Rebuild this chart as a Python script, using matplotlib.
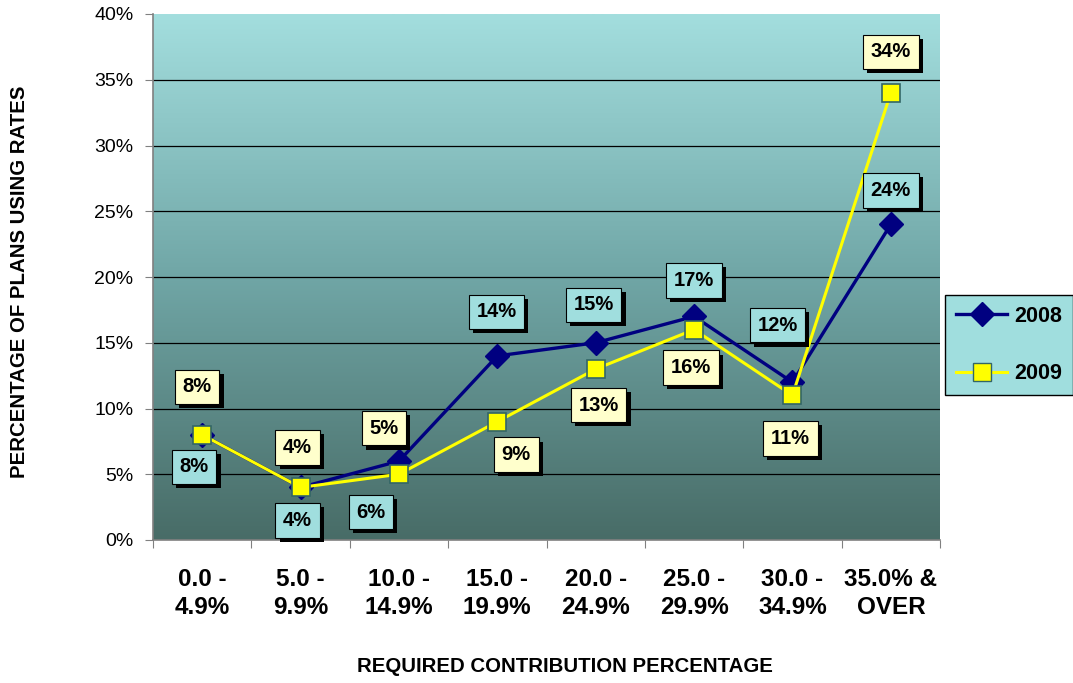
import numpy as np
import matplotlib
matplotlib.use('Agg')
import matplotlib.pyplot as plt
import matplotlib.patheffects as pe
from matplotlib.colors import LinearSegmentedColormap
from matplotlib.lines import Line2D

plt.rcParams['font.family'] = ['Liberation Sans', 'DejaVu Sans']

categories = ['0.0 -\n4.9%', '5.0 -\n9.9%', '10.0 -\n14.9%', '15.0 -\n19.9%',
              '20.0 -\n24.9%', '25.0 -\n29.9%', '30.0 -\n34.9%', '35.0% &\nOVER']
rates_2008 = [8, 4, 6, 14, 15, 17, 12, 24]
rates_2009 = [8, 4, 5, 9, 13, 16, 11, 34]

# label offsets in pixels (dx, dy) from each point
off_2008 = [(-8, -32), (-3, -33), (-28, -51), (-1, 44), (-2, 38), (0, 36), (-15, 57), (0, 34)]
off_2009 = [(-5, 48), (-3, 40), (-15, 46), (19, -33), (3, -36), (-3, -38), (-2, -43), (0, 41)]

navy = '#000080'
yellow = '#ffff00'
cyan_box = '#a0dede'
yellow_box = '#ffffcc'

fig = plt.figure(figsize=(10.73, 6.83), dpi=100)
ax = fig.add_axes([153 / 1073, 143 / 683, 787 / 1073, 526 / 683])

x = np.arange(len(categories))

# gradient background
cmap = LinearSegmentedColormap.from_list('bg', [(72/255, 108/255, 103/255),
                                               (112/255, 166/255, 166/255),
                                               (163/255, 222/255, 222/255)])
grad = np.linspace(0, 1, 256).reshape(-1, 1)
ax.imshow(grad, cmap=cmap, aspect='auto', origin='lower',
          extent=(-0.5, 7.5, 0, 40), zorder=0)

ax.set_xlim(-0.5, 7.5)
ax.set_ylim(0, 40)

for v in range(5, 40, 5):
    ax.axhline(v, color='black', lw=0.9, zorder=1)

ax.plot(x, rates_2008, color=navy, lw=2.4, marker='D', markersize=12,
        markerfacecolor=navy, markeredgecolor=navy, zorder=3)
ax.plot(x, rates_2009, color=yellow, lw=2.2, marker='s', markersize=12.5,
        markerfacecolor=yellow, markeredgecolor='#336666', markeredgewidth=1.2, zorder=4)

shadow = [pe.withSimplePatchShadow(offset=(3, -3), shadow_rgbFace='black', alpha=1)]


def box_label(xi, yi, txt, off, fc):
    t = ax.annotate(txt, (xi, yi), xytext=off, textcoords='offset pixels',
                    ha='center', va='center', fontsize=14.5, fontweight='bold', color='black',
                    bbox=dict(boxstyle='square,pad=0.38', fc=fc, ec='black', lw=0.8),
                    zorder=6, annotation_clip=False)
    t.get_bbox_patch().set_path_effects(shadow)


for i in range(len(categories)):
    box_label(x[i], rates_2008[i], '%d%%' % rates_2008[i], off_2008[i], cyan_box)
    box_label(x[i], rates_2009[i], '%d%%' % rates_2009[i], off_2009[i], yellow_box)

# axes styling
for side in ['top', 'right']:
    ax.spines[side].set_visible(False)
for side in ['left', 'bottom']:
    ax.spines[side].set_color('#808080')
    ax.spines[side].set_linewidth(1.2)

ax.set_yticks(range(0, 45, 5))
ax.set_yticklabels(['%d%%' % v for v in range(0, 45, 5)], fontsize=14)
ax.tick_params(axis='y', direction='out', length=6, color='#808080', pad=8)

ax.set_xticks(np.arange(-0.5, 8, 1))
ax.set_xticklabels([])
ax.set_xticks(x, minor=True)
ax.set_xticklabels(categories, minor=True, fontsize=17.5, fontweight='bold', linespacing=1.3)
ax.tick_params(axis='x', which='major', direction='out', length=6, color='#808080')
ax.tick_params(axis='x', which='minor', length=0, pad=20)

fig.text(565 / 1073, 1 - 667 / 683, 'REQUIRED CONTRIBUTION PERCENTAGE', ha='center', va='center',
         fontsize=14.7, fontweight='bold')
fig.text(20 / 1073, 1 - 282 / 683, 'PERCENTAGE OF PLANS USING RATES', ha='center', va='center',
         rotation=90, fontsize=14.7, fontweight='bold')

handles = [Line2D([], [], color=navy, lw=2.4, marker='D', markersize=12, markerfacecolor=navy),
           Line2D([], [], color=yellow, lw=2.2, marker='s', markersize=12.5,
                  markerfacecolor=yellow, markeredgecolor='#336666')]
leg = fig.legend(handles, ['2008', '2009'], loc='center left',
                 bbox_to_anchor=(945 / 1073, 1 - 345 / 683), frameon=True, fancybox=False,
                 facecolor=cyan_box, edgecolor='black', framealpha=1,
                 prop={'size': 15.5, 'weight': 'bold'}, handlelength=2.4,
                 labelspacing=1.7, borderpad=0.5, borderaxespad=0,
                 handletextpad=0.3)
leg.get_frame().set_linewidth(1.0)

fig.savefig('out.png', dpi=100)
